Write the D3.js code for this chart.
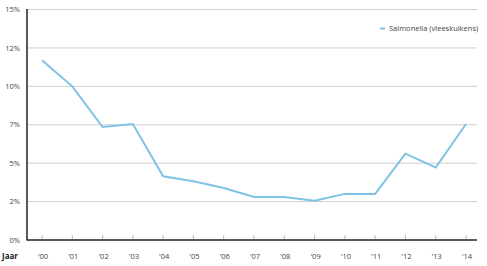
<!DOCTYPE html>
<html><head><meta charset="utf-8">
<script src="https://cdn.jsdelivr.net/npm/d3@7"></script>
<style>body{margin:0;background:#fff;} svg{display:block;font-family:"Open Sans",sans-serif;}</style>
</head><body>
<script>
const years = ["'00","'01","'02","'03","'04","'05","'06","'07","'08","'09","'10","'11","'12","'13","'14"];
const salmonella = [11.7, 10.0, 7.35, 7.55, 4.15, 3.82, 3.38, 2.8, 2.8, 2.55, 3.0, 3.0, 5.62, 4.72, 7.55];
const yTicks = [0, 2.5, 5, 7.5, 10, 12.5, 15];
const yTickLabels = ["0%","2%","5%","7%","10%","12%","15%"];
const seriesName = "Salmonella (vleeskuikens)";

const W = 487, H = 266;
const svg = d3.select("body").append("svg").attr("width", W).attr("height", H);
const x = d3.scalePoint().domain(years).range([42, 466]);
const y = d3.scaleLinear().domain([0, 15]).range([240, 9.5]);
const left = 27, right = 477;

// gridlines
svg.append("g").selectAll("line").data(yTicks.filter(d => d > 0)).join("line")
  .attr("x1", left).attr("x2", right)
  .attr("y1", d => y(d)).attr("y2", d => y(d))
  .attr("stroke", "#cfcfcf").attr("stroke-width", 1);

// y labels
svg.append("g").selectAll("text").data(yTicks).join("text")
  .attr("x", 20).attr("y", d => y(d)).attr("dy", "0.35em")
  .attr("text-anchor", "end").attr("font-size", 7.5).attr("fill", "#444")
  .text((d, i) => yTickLabels[i]);

// x ticks
svg.append("g").selectAll("line").data(years).join("line")
  .attr("x1", d => x(d)).attr("x2", d => x(d))
  .attr("y1", 240).attr("y2", 235)
  .attr("stroke", "#bbb").attr("stroke-width", 1);

svg.append("g").selectAll("text").data(years).join("text")
  .attr("x", d => x(d) + 1).attr("y", 259)
  .attr("text-anchor", "middle").attr("font-size", 7.5).attr("fill", "#444")
  .text(d => d);

svg.append("text").attr("x", 2).attr("y", 259).attr("font-size", 8)
  .attr("font-weight", "bold").attr("fill", "#222").text("Jaar");

// axes
svg.append("line").attr("x1", left).attr("x2", left).attr("y1", 9).attr("y2", 240.5)
  .attr("stroke", "#222").attr("stroke-width", 1.5);
svg.append("line").attr("x1", left).attr("x2", right).attr("y1", 240).attr("y2", 240)
  .attr("stroke", "#222").attr("stroke-width", 1.5);

// line
const line = d3.line().x((d, i) => x(years[i])).y(d => y(d));
svg.append("path").datum(salmonella).attr("d", line)
  .attr("fill", "none").attr("stroke", "#7ec3e3").attr("stroke-width", 2)
  .attr("stroke-linejoin", "miter");

// legend
svg.append("line").attr("x1", 380).attr("x2", 385).attr("y1", 28.5).attr("y2", 28.5)
  .attr("stroke", "#7ec3e3").attr("stroke-width", 2);
svg.append("text").attr("x", 389).attr("y", 28.5).attr("dy", "0.35em")
  .attr("font-size", 7.5).attr("fill", "#444").text(seriesName);
</script>
</body></html>
